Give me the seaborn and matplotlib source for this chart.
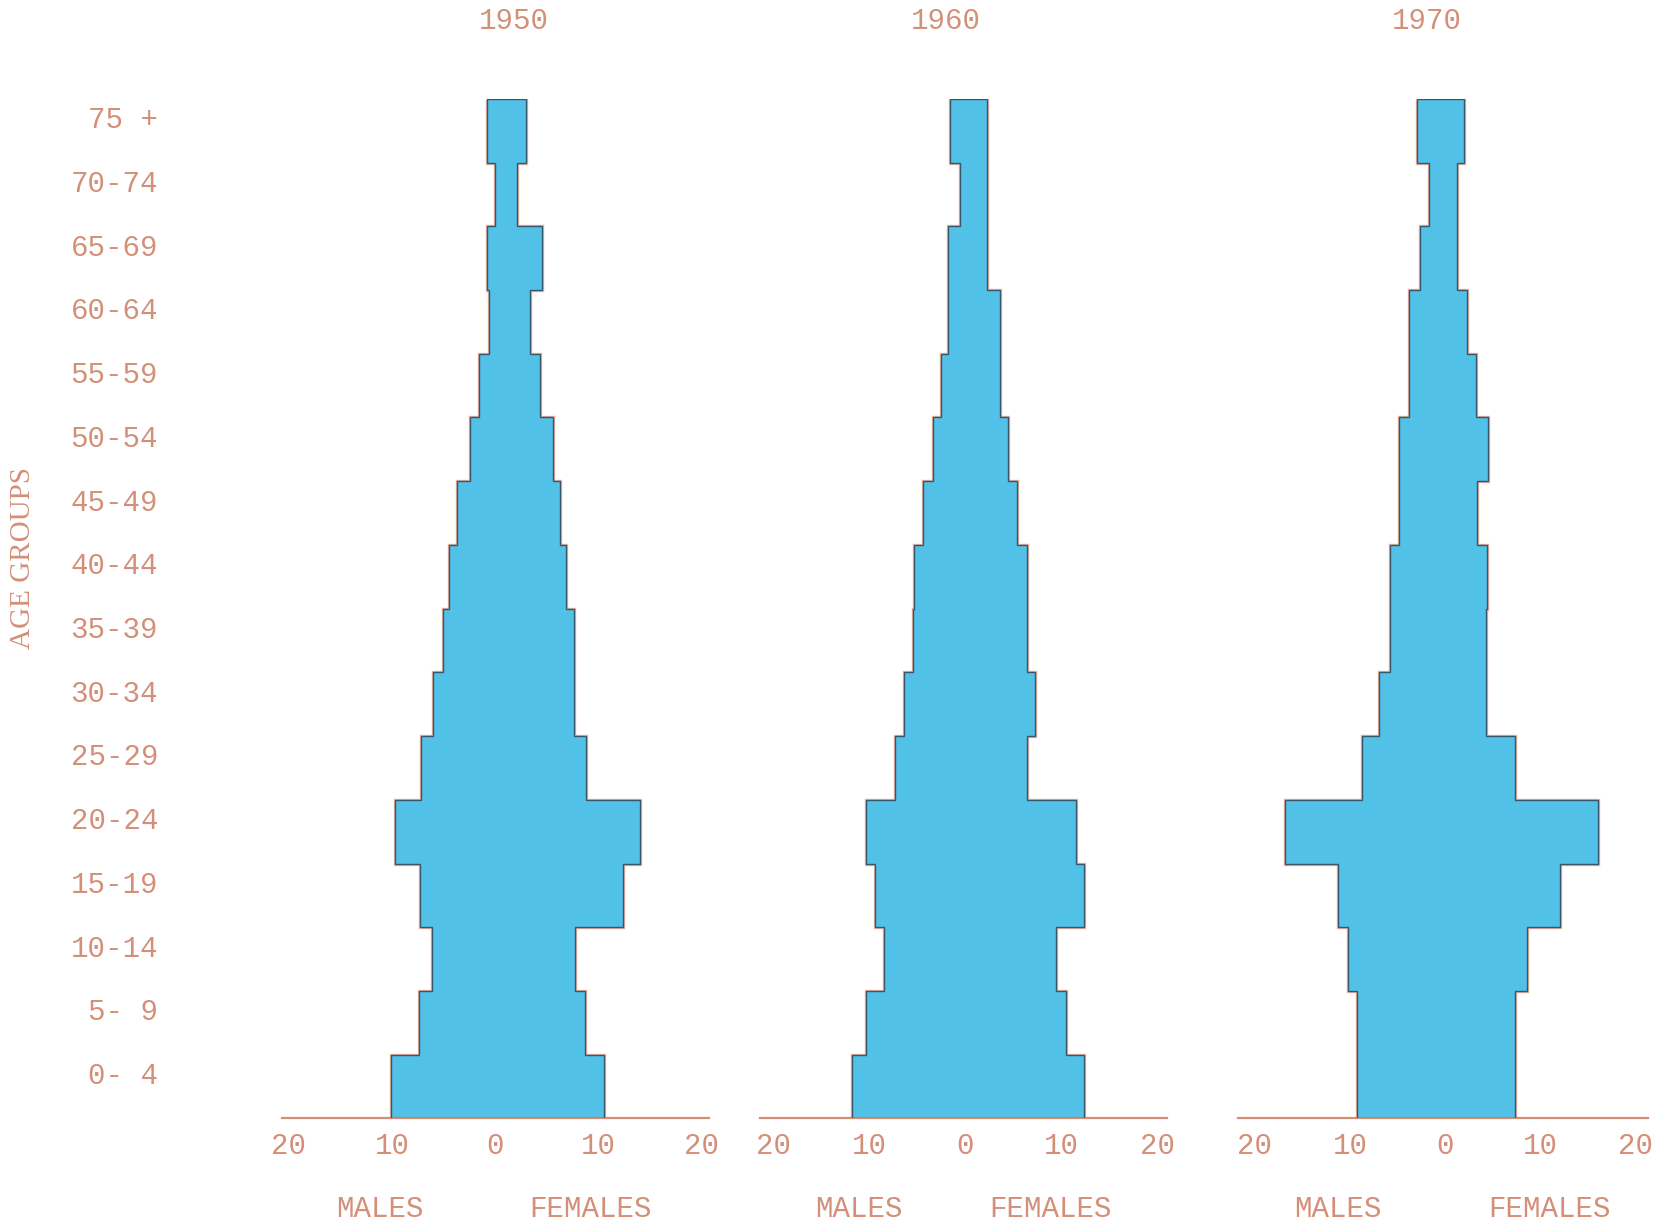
import numpy as np
import pandas as pd
import matplotlib
matplotlib.use('Agg')
import matplotlib.pyplot as plt
import matplotlib.transforms as mtransforms
import seaborn as sns

# age groups, bottom (youngest) to top
ages = ['0- 4', '5- 9', '10-14', '15-19', '20-24', '25-29', '30-34', '35-39',
        '40-44', '45-49', '50-54', '55-59', '60-64', '65-69', '70-74', '75 +']

years = ['1950', '1960', '1970']

# percent of population
males_1950 = [10.1, 7.4, 6.1, 7.3, 9.7, 7.2, 6.0, 5.1, 4.5, 3.7, 2.5, 1.6, 0.6, 0.85, 0.0, 0.85]
females_1950 = [10.5, 8.7, 7.7, 12.4, 14.0, 8.8, 7.6, 7.6, 6.8, 6.3, 5.6, 4.3, 3.3, 4.5, 2.1, 3.0]

males_1960 = [11.8, 10.3, 8.5, 9.4, 10.3, 7.3, 6.4, 5.45, 5.4, 4.4, 3.4, 2.5, 1.8, 1.8, 0.55, 1.65]
females_1960 = [12.3, 10.5, 9.45, 12.35, 11.5, 6.45, 7.25, 6.35, 6.35, 5.4, 4.4, 3.55, 3.55, 2.2, 2.2, 2.2]

males_1970 = [9.3, 9.3, 10.2, 11.3, 16.8, 8.75, 6.9, 5.8, 5.75, 4.85, 4.85, 3.75, 3.75, 2.65, 1.75, 3.0]
females_1970 = [7.3, 7.3, 8.55, 12.1, 16.0, 7.3, 4.3, 4.3, 4.35, 3.3, 4.5, 3.2, 2.3, 1.2, 1.2, 2.0]

tick_vals = [-20, -10, 0, 10, 20]
tick_labels = ['20', '10', '0', '10', '20']

sns.set_theme(style='white')
plt.rcParams['font.family'] = ['Liberation Mono', 'DejaVu Sans Mono']

text_col = '#d48f78'
fill_col = '#52c1e8'
edge_col = '#38576a'
fs = 21

fig = plt.figure(figsize=(16.67, 12.25), dpi=100)

panels = [
    # axes rect, xlim, title x, males x, females x
    ([0.1690, 0.0870, 0.2564, 0.8323], (-20.7, 20.7), 1.75, -11.2, 9.2),
    ([0.4560, 0.0870, 0.2443, 0.8323], (-21.35, 21.0), -2.0, -11.1, 8.85),
    ([0.7429, 0.0870, 0.2455, 0.8323], (-21.7, 21.25), -1.95, -11.3, 10.9),
]
males_all = [males_1950, males_1960, males_1970]
females_all = [females_1950, females_1960, females_1970]

order = ages[::-1]  # top to bottom
edges = np.arange(len(ages) + 1) - 0.5

for i, (rect, xlim, tx, mx, fx) in enumerate(panels):
    ax = fig.add_axes(rect)
    df = pd.DataFrame({'age': ages,
                       'males': [-v for v in males_all[i]],
                       'females': females_all[i]})

    sns.barplot(data=df, x='males', y='age', order=order, orient='h',
                color=fill_col, saturation=1, width=1.0, linewidth=0,
                errorbar=None, ax=ax, zorder=2)
    sns.barplot(data=df, x='females', y='age', order=order, orient='h',
                color=fill_col, saturation=1, width=1.0, linewidth=0,
                errorbar=None, ax=ax, zorder=2)

    m_top = np.array(males_all[i][::-1])
    f_top = np.array(females_all[i][::-1])
    # faint misregistered outline + dark outline
    ax.stairs(f_top, edges, baseline=-m_top, orientation='horizontal',
              fill=False, edgecolor='#eab09c', linewidth=2.4, zorder=1)
    ax.stairs(f_top, edges, baseline=-m_top, orientation='horizontal',
              fill=False, edgecolor=edge_col, linewidth=1.0, zorder=3)

    ax.set_xlim(*xlim)
    ax.set_ylim(len(ages) - 0.5, -0.5)
    ax.set_xticks(tick_vals)
    ax.set_xticklabels(tick_labels)
    ax.set_xlabel('')
    ax.set_ylabel('')
    ax.tick_params(axis='x', length=0, pad=10, labelsize=fs, labelcolor=text_col)

    for s in ['top', 'right', 'left']:
        ax.spines[s].set_visible(False)
    ax.spines['bottom'].set_color(text_col)
    ax.spines['bottom'].set_linewidth(1.6)
    ax.patch.set_alpha(0)

    if i == 0:
        ax.tick_params(axis='y', length=0, pad=89, labelsize=fs, labelcolor=text_col)
        shift = mtransforms.ScaledTranslation(0, 0.135, fig.dpi_scale_trans)
        for lab in ax.get_yticklabels():
            lab.set_transform(lab.get_transform() + shift)
    else:
        ax.tick_params(axis='y', length=0, labelleft=False)

    tr = mtransforms.blended_transform_factory(ax.transData, ax.transAxes)
    ax.text(tx, 1.0765, years[i], transform=tr, ha='center', va='center',
            fontsize=fs, color=text_col)
    ax.text(mx, -0.089, 'MALES', transform=tr, ha='center', va='center',
            fontsize=fs, color=text_col)
    ax.text(fx, -0.089, 'FEMALES', transform=tr, ha='center', va='center',
            fontsize=fs, color=text_col)

fig.text(0.014, 0.5445, 'AGE GROUPS', rotation=90, ha='center', va='center',
         fontsize=fs, color=text_col, family=['Liberation Serif', 'DejaVu Serif'])

fig.savefig('out.png', dpi=100, facecolor='white')
